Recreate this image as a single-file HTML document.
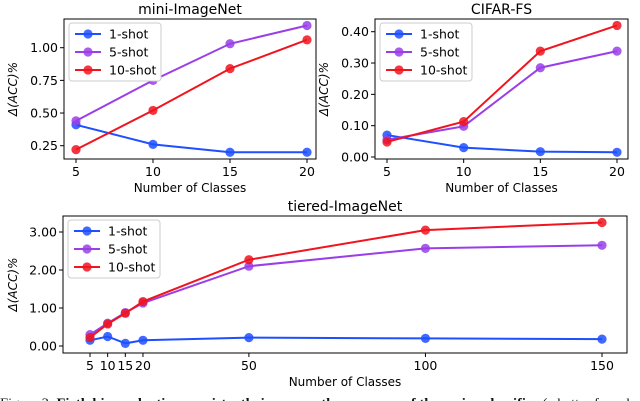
<!DOCTYPE html>
<html><head><meta charset="utf-8"><style>
html,body{margin:0;padding:0;background:#fff;}
svg{display:block;font-family:"DejaVu Sans","Liberation Sans",sans-serif;}
</style></head><body>
<svg id="fig" width="640" height="401" viewBox="0 0 640 401" xmlns="http://www.w3.org/2000/svg">
<text x="0" y="407" font-family="Liberation Serif, serif" font-size="13" textLength="645" lengthAdjust="spacingAndGlyphs" fill="#111">Figure 3: <tspan font-weight="bold">Firth bias reduction consistently improves the accuracy of the cosine classifier</tspan> (a better few-shot</text>
</svg>
<script>
// mini-ImageNet
const miniX = [5, 10, 15, 20];
const mini1 = [0.41, 0.26, 0.20, 0.20];
const mini5 = [0.44, 0.75, 1.03, 1.17];
const mini10 = [0.22, 0.52, 0.84, 1.06];
const miniYTicks = [0.25, 0.50, 0.75, 1.00];
const miniYLabels = ["0.25", "0.50", "0.75", "1.00"];
// CIFAR-FS
const cifX = [5, 10, 15, 20];
const cif1 = [0.070, 0.030, 0.017, 0.015];
const cif5 = [0.055, 0.098, 0.285, 0.338];
const cif10 = [0.048, 0.113, 0.338, 0.420];
const cifYTicks = [0, 0.1, 0.2, 0.3, 0.4];
const cifYLabels = ["0.00", "0.10", "0.20", "0.30", "0.40"];
// tiered-ImageNet
const tierX = [5, 10, 15, 20, 50, 100, 150];
const tier1 = [0.15, 0.25, 0.07, 0.15, 0.22, 0.20, 0.18];
const tier5 = [0.30, 0.60, 0.88, 1.13, 2.10, 2.57, 2.65];
const tier10 = [0.22, 0.58, 0.86, 1.17, 2.27, 3.05, 3.25];
const tierYTicks = [0, 1, 2, 3];
const tierYLabels = ["0.00", "1.00", "2.00", "3.00"];
const seriesNames = ["1-shot", "5-shot", "10-shot"];
const colors = ["#1f4fff", "#9a3ee8", "#f0141e"];

const NS = "http://www.w3.org/2000/svg";
const svg = document.getElementById("fig");
function el(tag, attrs, parent) {
  const e = document.createElementNS(NS, tag);
  for (const k in attrs) e.setAttribute(k, attrs[k]);
  (parent || svg).appendChild(e);
  return e;
}
function txt(x, y, s, size, anchor, parent) {
  const t = el("text", {x: x, y: y, "font-size": size, "text-anchor": anchor, fill: "#000"}, parent);
  t.textContent = s;
  return t;
}

function chart(cfg) {
  const g = el("g", {});
  
  
  const sx = v => cfg.px0 + (v - cfg.x0) / (cfg.x1 - cfg.x0) * (cfg.px1 - cfg.px0);
  const sy = v => cfg.py0 + (v - cfg.y0) / (cfg.y1 - cfg.y0) * (cfg.py1 - cfg.py0);
  const t = txt((cfg.L + cfg.R) / 2, cfg.T - 5, cfg.title, 14, "middle", g);
  
  
  const box = el("rect", {x: cfg.L, y: cfg.T, width: cfg.R - cfg.L, height: cfg.B - cfg.T, fill: "none", stroke: "#000", "stroke-width": 1}, g);
  
  
  cfg.xs.forEach((v, i) => {
    const x = sx(v);
    el("line", {x1: x, x2: x, y1: cfg.B, y2: cfg.B + 4, stroke: "#000"}, g);
    const l = txt(x, cfg.B + 17, cfg.xLabels[i], 12.5, "middle", g);
    
    
  });
  cfg.yt.forEach((v, i) => {
    const y = sy(v);
    el("line", {x1: cfg.L - 4, x2: cfg.L, y1: y, y2: y, stroke: "#000"}, g);
    const l = txt(cfg.L - 6, y + 4.5, cfg.yl[i], 12.5, "end", g);
    
    
  });
  const xl = txt((cfg.L + cfg.R) / 2, cfg.B + 33, "Number of Classes", 12, "middle", g);
  
  
  const yl = txt(0, 0, "Δ(ACC)%", 12, "middle", g);
  yl.setAttribute("transform", "translate(" + cfg.ylx + "," + ((cfg.T + cfg.B) / 2) + ") rotate(-90)");
  yl.setAttribute("font-style", "italic");
  
  
  cfg.series.forEach((arr, si) => {
    const pts = arr.map((v, i) => sx(cfg.xs[i]) + "," + sy(v)).join(" ");
    const line = el("polyline", {points: pts, fill: "none", stroke: colors[si], "stroke-width": 2}, g);
    
    
    arr.forEach((v, i) => {
      const c = el("circle", {cx: sx(cfg.xs[i]), cy: sy(v), r: 4.6, fill: colors[si], "fill-opacity": 0.85}, g);
      
      
    });
  });
  const lg = el("g", {}, g);
  
  
  el("rect", {x: cfg.L + 5, y: cfg.T + 4, width: 92, height: 58, rx: 3, fill: "#fff", stroke: "#ccc"}, lg);
  seriesNames.forEach((n, i) => {
    const y = cfg.T + 15 + i * 18;
    const e = el("g", {}, lg);
    
    
    el("line", {x1: cfg.L + 11, x2: cfg.L + 37, y1: y, y2: y, stroke: colors[i], "stroke-width": 2}, e);
    el("circle", {cx: cfg.L + 24, cy: y, r: 4.6, fill: colors[i], "fill-opacity": 0.85}, e);
    txt(cfg.L + 45, y + 4.5, n, 12.5, "start", e);
  });
}

chart({name: "mini-imagenet-chart", title: "mini-ImageNet", L: 64, R: 316, T: 19, B: 159,
  xs: miniX, xLabels: miniX.map(String), x0: 5, x1: 20, px0: 76, px1: 307,
  y0: 0.25, y1: 1.00, py0: 145.7, py1: 47.7, yt: miniYTicks, yl: miniYLabels, ylx: 17,
  series: [mini1, mini5, mini10]});
chart({name: "cifar-fs-chart", title: "CIFAR-FS", L: 375, R: 628, T: 19, B: 159,
  xs: cifX, xLabels: cifX.map(String), x0: 5, x1: 20, px0: 387, px1: 617,
  y0: 0, y1: 0.4, py0: 157, py1: 31.7, yt: cifYTicks, yl: cifYLabels, ylx: 328,
  series: [cif1, cif5, cif10]});
chart({name: "tiered-imagenet-chart", title: "tiered-ImageNet", L: 63, R: 627, T: 216, B: 353,
  xs: tierX, xLabels: tierX.map(String), x0: 5, x1: 150, px0: 90, px1: 602,
  y0: 0, y1: 3, py0: 346, py1: 232, yt: tierYTicks, yl: tierYLabels, ylx: 17,
  series: [tier1, tier5, tier10]});
</script>
</body></html>
